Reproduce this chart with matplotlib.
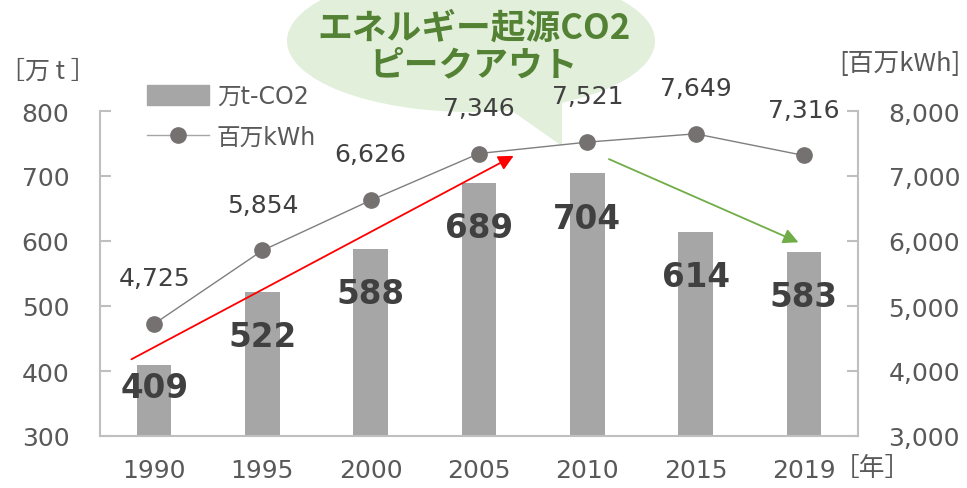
import matplotlib.pyplot as plt
from matplotlib.patches import Ellipse, Polygon
from matplotlib.lines import Line2D
from matplotlib.patches import Patch

plt.rcParams['font.family'] = ['DejaVu Sans', 'Noto Sans CJK JP']
CJK = ['Noto Sans CJK JP', 'DejaVu Sans']

# data
years = ['1990', '1995', '2000', '2005', '2010', '2015', '2019']
co2 = [409, 522, 588, 689, 704, 614, 583]          # 万t-CO2
power = [4725, 5854, 6626, 7346, 7521, 7649, 7316]  # 百万kWh

W, H = 967, 489
fig = plt.figure(figsize=(W / 100, H / 100), dpi=100)

# background layer for the callout (pixel coordinates)
bg = fig.add_axes([0, 0, 1, 1], zorder=0)
bg.set_xlim(0, W)
bg.set_ylim(H, 0)
bg.axis('off')
bg.add_patch(Ellipse((471, 42), 368, 142, color='#e2efda', lw=0))
bg.add_patch(Polygon([[495, 100], [562, 100], [562, 147]], closed=True, color='#e2efda', lw=0))
bg.text(474, 28, 'エネルギー起源CO2', ha='center', va='center', fontsize=25,
        fontweight='bold', color='#548235', family=CJK)
bg.text(474, 65, 'ピークアウト', ha='center', va='center', fontsize=25,
        fontweight='bold', color='#548235', family=CJK)

ax = fig.add_axes([100 / W, 1 - 437 / H, 758 / W, 325 / H], zorder=1)
ax.patch.set_alpha(0)
x = list(range(len(years)))

ax.bar(x, co2, width=0.32, color='#a6a6a6', zorder=1)
ax.set_xlim(-0.5, len(years) - 0.5)
ax.set_ylim(300, 800)
ax.set_yticks(range(300, 801, 100))
ax.set_xticks(x)
ax.set_xticklabels(years)

ax.spines['top'].set_visible(False)
for sp in ['left', 'right', 'bottom']:
    ax.spines[sp].set_color('#bfbfbf')
    ax.spines[sp].set_linewidth(1.5)
ax.tick_params(axis='y', direction='in', length=8, width=1.5, color='#bfbfbf',
               labelsize=18, labelcolor='#595959', pad=22)
ax.tick_params(axis='x', length=0, labelsize=18, labelcolor='#595959', pad=16)

# bar labels
for i, v in enumerate(co2):
    ax.text(i, max(v - 69, 375), f'{v}', ha='center', va='center', fontsize=23.5,
            fontweight='bold', color='#404040', zorder=5)

ax2 = ax.twinx()
ax2.set_ylim(3000, 8000)
ax2.set_yticks(range(3000, 8001, 1000))
ax2.set_yticklabels([f'{t:,}' for t in range(3000, 8001, 1000)])
for sp in ax2.spines.values():
    sp.set_visible(False)
ax2.tick_params(axis='y', direction='in', length=8, width=1.5, color='#bfbfbf',
                labelsize=18, labelcolor='#595959', pad=22)
ax2.plot(x, power, color='#7f7f7f', lw=1, marker='o', markersize=11,
         markerfacecolor='#767171', markeredgecolor='#767171', zorder=3)
for i, v in enumerate(power):
    ax2.annotate(f'{v:,}', (i, v), xytext=(0, 33), textcoords='offset points',
                 ha='center', va='center', fontsize=18, color='#404040')

# arrows
ax.annotate('', xy=(3.32, 731), xytext=(-0.21, 418),
            arrowprops=dict(arrowstyle='-|>,head_length=0.9,head_width=0.45',
                            color='#ff0000', lw=1.3, shrinkA=0, shrinkB=0), zorder=4)
ax.annotate('', xy=(5.95, 598), xytext=(4.20, 726),
            arrowprops=dict(arrowstyle='-|>,head_length=0.9,head_width=0.45',
                            color='#70ad47', lw=1.3, shrinkA=0, shrinkB=0), zorder=4)

# legend
handles = [Patch(color='#a6a6a6'),
           Line2D([], [], color='#a6a6a6', lw=1, marker='o', markersize=11,
                  markerfacecolor='#767171', markeredgecolor='#767171')]
ax.legend(handles, ['万t-CO2', '百万kWh'], loc='upper left',
          bbox_to_anchor=(126 / W, 1 - 64 / H), bbox_transform=fig.transFigure,
          frameon=False, fontsize=17, labelcolor='#595959', handlelength=2.6,
          handleheight=0.9, handletextpad=0.35, labelspacing=0.7)

# unit labels
fig.text(48 / W, 1 - 72 / H, '［万 t ］', ha='center', va='center', fontsize=18,
         color='#595959', family=CJK)
fig.text(900 / W, 1 - 64 / H, '[百万kWh]', ha='center', va='center', fontsize=18.5,
         color='#595959', family=CJK)
fig.text(872 / W, 1 - 469 / H, '［年］', ha='center', va='center', fontsize=18.5,
         color='#595959', family=CJK)

fig.savefig('out.png', dpi=100)
